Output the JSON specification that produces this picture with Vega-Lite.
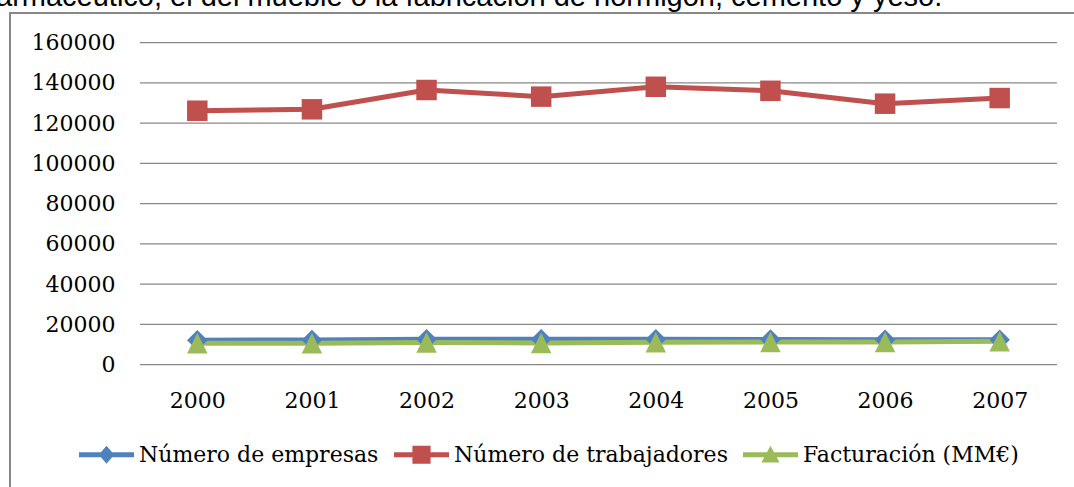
{
  "$schema": "https://vega.github.io/schema/vega-lite/v6.json",
  "width": 1070,
  "height": 480,
  "autosize": {"type": "none"},
  "padding": {"left": 10, "top": 13, "right": 0, "bottom": 0},
  "background": "white",
  "title": {
    "text": "armacéutico, el del mueble o la fabricación de hormigón, cemento y yeso.",
    "anchor": "start",
    "frame": "group",
    "font": "Liberation Sans",
    "fontSize": 29,
    "fontWeight": "normal",
    "color": "#000000",
    "baseline": "alphabetic",
    "offset": 4,
    "dx": -14,
    "dy": 26
  },
  "config": {
    "view": {"stroke": "#888888", "strokeWidth": 2},
    "axis": {"grid": false, "domain": false, "ticks": false, "tickSize": 0, "labelFont": "DejaVu Serif", "labelFontSize": 22, "labelColor": "#000000", "labelFlush": false, "labelOverlap": false, "labelBound": false}
  },
  "datasets": {
    "grid": [
      {"v": 0}, {"v": 20000}, {"v": 40000}, {"v": 60000}, {"v": 80000},
      {"v": 100000}, {"v": 120000}, {"v": 140000}, {"v": 160000}
    ],
    "main": [
      {"year": 2000, "serie": "Número de empresas", "value": 12200},
      {"year": 2001, "serie": "Número de empresas", "value": 12300},
      {"year": 2002, "serie": "Número de empresas", "value": 12700},
      {"year": 2003, "serie": "Número de empresas", "value": 12700},
      {"year": 2004, "serie": "Número de empresas", "value": 12700},
      {"year": 2005, "serie": "Número de empresas", "value": 12500},
      {"year": 2006, "serie": "Número de empresas", "value": 12400},
      {"year": 2007, "serie": "Número de empresas", "value": 12400},
      {"year": 2000, "serie": "Número de trabajadores", "value": 126200},
      {"year": 2001, "serie": "Número de trabajadores", "value": 126900},
      {"year": 2002, "serie": "Número de trabajadores", "value": 136500},
      {"year": 2003, "serie": "Número de trabajadores", "value": 133200},
      {"year": 2004, "serie": "Número de trabajadores", "value": 138100},
      {"year": 2005, "serie": "Número de trabajadores", "value": 136100},
      {"year": 2006, "serie": "Número de trabajadores", "value": 129700},
      {"year": 2007, "serie": "Número de trabajadores", "value": 132500},
      {"year": 2000, "serie": "Facturación (MM€)", "value": 10600},
      {"year": 2001, "serie": "Facturación (MM€)", "value": 10700},
      {"year": 2002, "serie": "Facturación (MM€)", "value": 11000},
      {"year": 2003, "serie": "Facturación (MM€)", "value": 10800},
      {"year": 2004, "serie": "Facturación (MM€)", "value": 11200},
      {"year": 2005, "serie": "Facturación (MM€)", "value": 11300},
      {"year": 2006, "serie": "Facturación (MM€)", "value": 11300},
      {"year": 2007, "serie": "Facturación (MM€)", "value": 11600}
    ]
  },
  "layer": [
    {
      "data": {"name": "grid"},
      "mark": {"type": "rule", "color": "#888888", "strokeWidth": 1.2},
      "encoding": {
        "y": {"field": "v", "type": "quantitative", "scale": {"domain": [-63752, 174758], "nice": false, "zero": false}, "axis": {"title": null, "orient": "left", "offset": -130, "labelPadding": 25, "values": [0, 20000, 40000, 60000, 80000, 100000, 120000, 140000, 160000], "format": "d"}},
        "x": {"datum": 1999.5, "type": "quantitative", "scale": {"domain": [1998.366, 2007.7008], "nice": false, "zero": false}, "axis": {"title": null, "orient": "bottom", "offset": -128.3, "labelPadding": 26, "values": [2000, 2001, 2002, 2003, 2004, 2005, 2006, 2007], "format": "d", "labelAngle": 0}},
        "x2": {"datum": 2007.5}
      }
    },
    {
      "data": {"name": "main"},
      "mark": {"type": "line", "strokeWidth": 5, "strokeCap": "round", "strokeJoin": "round"},
      "encoding": {
        "x": {"field": "year", "type": "quantitative", "scale": {"domain": [1998.366, 2007.7008], "nice": false, "zero": false}, "axis": {"title": null, "orient": "bottom", "offset": -128.3, "labelPadding": 26, "values": [2000, 2001, 2002, 2003, 2004, 2005, 2006, 2007], "format": "d", "labelAngle": 0}},
        "y": {"field": "value", "type": "quantitative", "scale": {"domain": [-63752, 174758], "nice": false, "zero": false}, "axis": {"title": null, "orient": "left", "offset": -130, "labelPadding": 25, "values": [0, 20000, 40000, 60000, 80000, 100000, 120000, 140000, 160000], "format": "d"}},
        "color": {"field": "serie", "type": "nominal", "scale": {"domain": ["Número de empresas", "Número de trabajadores", "Facturación (MM€)"], "range": ["#4F81BD", "#C0504D", "#9BBB59"]}, "legend": null}
      }
    },
    {
      "data": {"name": "main"},
      "mark": {"type": "point", "filled": true, "opacity": 1, "size": 420, "strokeWidth": 0},
      "encoding": {
        "x": {"field": "year", "type": "quantitative", "scale": {"domain": [1998.366, 2007.7008], "nice": false, "zero": false}, "axis": {"title": null, "orient": "bottom", "offset": -128.3, "labelPadding": 26, "values": [2000, 2001, 2002, 2003, 2004, 2005, 2006, 2007], "format": "d", "labelAngle": 0}},
        "y": {"field": "value", "type": "quantitative", "scale": {"domain": [-63752, 174758], "nice": false, "zero": false}, "axis": {"title": null, "orient": "left", "offset": -130, "labelPadding": 25, "values": [0, 20000, 40000, 60000, 80000, 100000, 120000, 140000, 160000], "format": "d"}},
        "color": {"field": "serie", "type": "nominal", "scale": {"domain": ["Número de empresas", "Número de trabajadores", "Facturación (MM€)"], "range": ["#4F81BD", "#C0504D", "#9BBB59"]}, "legend": null},
        "shape": {"field": "serie", "type": "nominal", "scale": {"domain": ["Número de empresas", "Número de trabajadores", "Facturación (MM€)"], "range": ["diamond", "square", "M0,-1L1,1L-1,1Z"]}, "legend": null}
      }
    },
    {
      "data": {"name": "main"},
      "transform": [{"filter": "false"}],
      "mark": {"type": "point", "filled": true, "opacity": 1, "strokeWidth": 0},
      "encoding": {
        "x": {"field": "year", "type": "quantitative", "scale": {"domain": [1998.366, 2007.7008], "nice": false, "zero": false}, "axis": {"title": null, "orient": "bottom", "offset": -128.3, "labelPadding": 26, "values": [2000, 2001, 2002, 2003, 2004, 2005, 2006, 2007], "format": "d", "labelAngle": 0}},
        "y": {"field": "value", "type": "quantitative", "scale": {"domain": [-63752, 174758], "nice": false, "zero": false}, "axis": {"title": null, "orient": "left", "offset": -130, "labelPadding": 25, "values": [0, 20000, 40000, 60000, 80000, 100000, 120000, 140000, 160000], "format": "d"}},
        "color": {"field": "serie", "type": "nominal", "scale": {"domain": ["Número de empresas", "Número de trabajadores", "Facturación (MM€)"], "range": ["#4F81BD", "#C0504D", "#9BBB59"]},
          "legend": {"orient": "none", "legendX": 69, "legendY": 414, "direction": "horizontal", "columns": 3, "title": null, "labelFont": "DejaVu Serif", "labelFontSize": 22, "labelColor": "#000000", "symbolSize": 3025, "symbolStrokeWidth": 0, "symbolOpacity": 1, "labelOffset": 5, "columnPadding": 15, "padding": 0, "labelLimit": 500}},
        "shape": {"field": "serie", "type": "nominal", "scale": {"domain": ["Número de empresas", "Número de trabajadores", "Facturación (MM€)"], "range": ["M-1,-0.09H1V0.09H-1Z M0,-0.33L0.28,0L0,0.33L-0.28,0Z", "M-1,-0.09H1V0.09H-1Z M-0.33,-0.33H0.33V0.33H-0.33Z", "M-1,-0.09H1V0.09H-1Z M0,-0.33L0.33,0.28L-0.33,0.28Z"]},
          "legend": {"orient": "none", "legendX": 69, "legendY": 414, "direction": "horizontal", "columns": 3, "title": null, "labelFont": "DejaVu Serif", "labelFontSize": 22, "labelColor": "#000000", "symbolSize": 3025, "symbolStrokeWidth": 0, "symbolOpacity": 1, "labelOffset": 5, "columnPadding": 15, "padding": 0, "labelLimit": 500}}
      }
    }
  ],
  "resolve": {"scale": {"color": "independent", "shape": "independent"}, "legend": {"color": "independent", "shape": "independent"}}
}
